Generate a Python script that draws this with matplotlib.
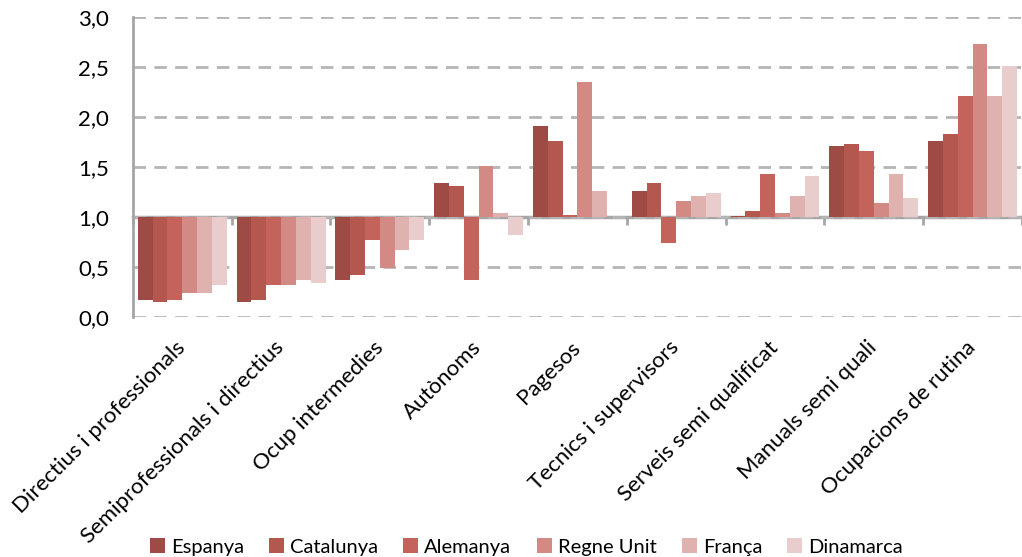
import numpy as np
import matplotlib
matplotlib.use("Agg")
import matplotlib.pyplot as plt
import matplotlib.transforms as mtransforms
from matplotlib.patches import Patch

plt.rcParams["font.family"] = ["Lato", "DejaVu Sans"]

categories = [
    "Directius i professionals",
    "Semiprofessionals i directius",
    "Ocup intermedies",
    "Autònoms",
    "Pagesos",
    "Tecnics i supervisors",
    "Serveis semi qualificat",
    "Manuals semi quali",
    "Ocupacions de rutina",
]
series_names = ["Espanya", "Catalunya", "Alemanya", "Regne Unit", "França", "Dinamarca"]

espanya = [0.17, 0.15, 0.37, 1.34, 1.91, 1.26, 1.01, 1.71, 1.76]
catalunya = [0.15, 0.17, 0.42, 1.31, 1.76, 1.34, 1.06, 1.73, 1.83]
alemanya = [0.17, 0.32, 0.77, 0.37, 1.02, 0.74, 1.43, 1.66, 2.21]
regne_unit = [0.24, 0.32, 0.49, 1.51, 2.35, 1.16, 1.04, 1.14, 2.73]
franca = [0.24, 0.37, 0.67, 1.04, 1.26, 1.21, 1.21, 1.43, 2.21]
dinamarca = [0.32, 0.34, 0.77, 0.82, np.nan, 1.24, 1.41, 1.19, 2.51]

colors = ["#9e4a45", "#b4574f", "#c4625c", "#d48a84", "#e0b2af", "#e9cdcc"]

yticks = [0.0, 0.5, 1.0, 1.5, 2.0, 2.5, 3.0]
ytick_labels = ["0,0", "0,5", "1,0", "1,5", "2,0", "2,5", "3,0"]
baseline = 1.0

fig = plt.figure(figsize=(10.22, 5.57), dpi=100)
ax = fig.add_axes([0.130, 0.4315, 0.870, 0.5386])

gray = "#a6a6a6"
x = np.arange(len(categories))
width = 0.15
data = [espanya, catalunya, alemanya, regne_unit, franca, dinamarca]
for i, (vals, col) in enumerate(zip(data, colors)):
    vals = np.array(vals)
    ax.bar(x + (i - 2.5) * width, vals - baseline, width, bottom=baseline,
           color=col, edgecolor="none", zorder=2)

ax.set_xlim(-0.5, len(categories) - 0.5)
ax.set_ylim(0, 3)
ax.set_yticks(yticks)
ax.set_yticklabels(ytick_labels, fontsize=16)
ax.tick_params(axis="y", length=0, pad=17)
ax.yaxis.grid(True, color="#b5b5b5", linewidth=2, linestyle=(0, (4.5, 3)), zorder=0)
ax.set_axisbelow(True)

for side in ["top", "right", "bottom"]:
    ax.spines[side].set_visible(False)
ax.spines["left"].set_color(gray)
ax.spines["left"].set_linewidth(2)

# category labels under the plot
ax.set_xticks(x)
ax.tick_params(axis="x", length=0)
offset = mtransforms.ScaledTranslation(13 / 72, 0, fig.dpi_scale_trans)
ax.set_xticklabels(categories, rotation=45, ha="right", va="center",
                   rotation_mode="anchor", fontsize=16)
for lbl in ax.get_xticklabels():
    lbl.set_transform(lbl.get_transform() + offset)
ax.tick_params(axis="x", pad=20)

# axis line at 1,0 with category separators
sec = ax.secondary_xaxis(baseline / 3.0)
sec.set_xticks(np.arange(len(categories) + 1) - 0.5)
sec.set_xticklabels([])
sec.tick_params(axis="x", length=6, width=2, color=gray, direction="out")
sec.spines["bottom"].set_color(gray)
sec.spines["bottom"].set_linewidth(2.5)
sec.spines["bottom"].set_zorder(3)

handles = [Patch(facecolor=c, edgecolor="none") for c in colors]
fig.legend(handles, series_names, loc="lower center", bbox_to_anchor=(0.515, -0.03),
           ncol=6, frameon=False, fontsize=14.5, handlelength=0.75, handleheight=0.75,
           handletextpad=0.3, columnspacing=1.25)

fig.savefig("out.png", dpi=100)
